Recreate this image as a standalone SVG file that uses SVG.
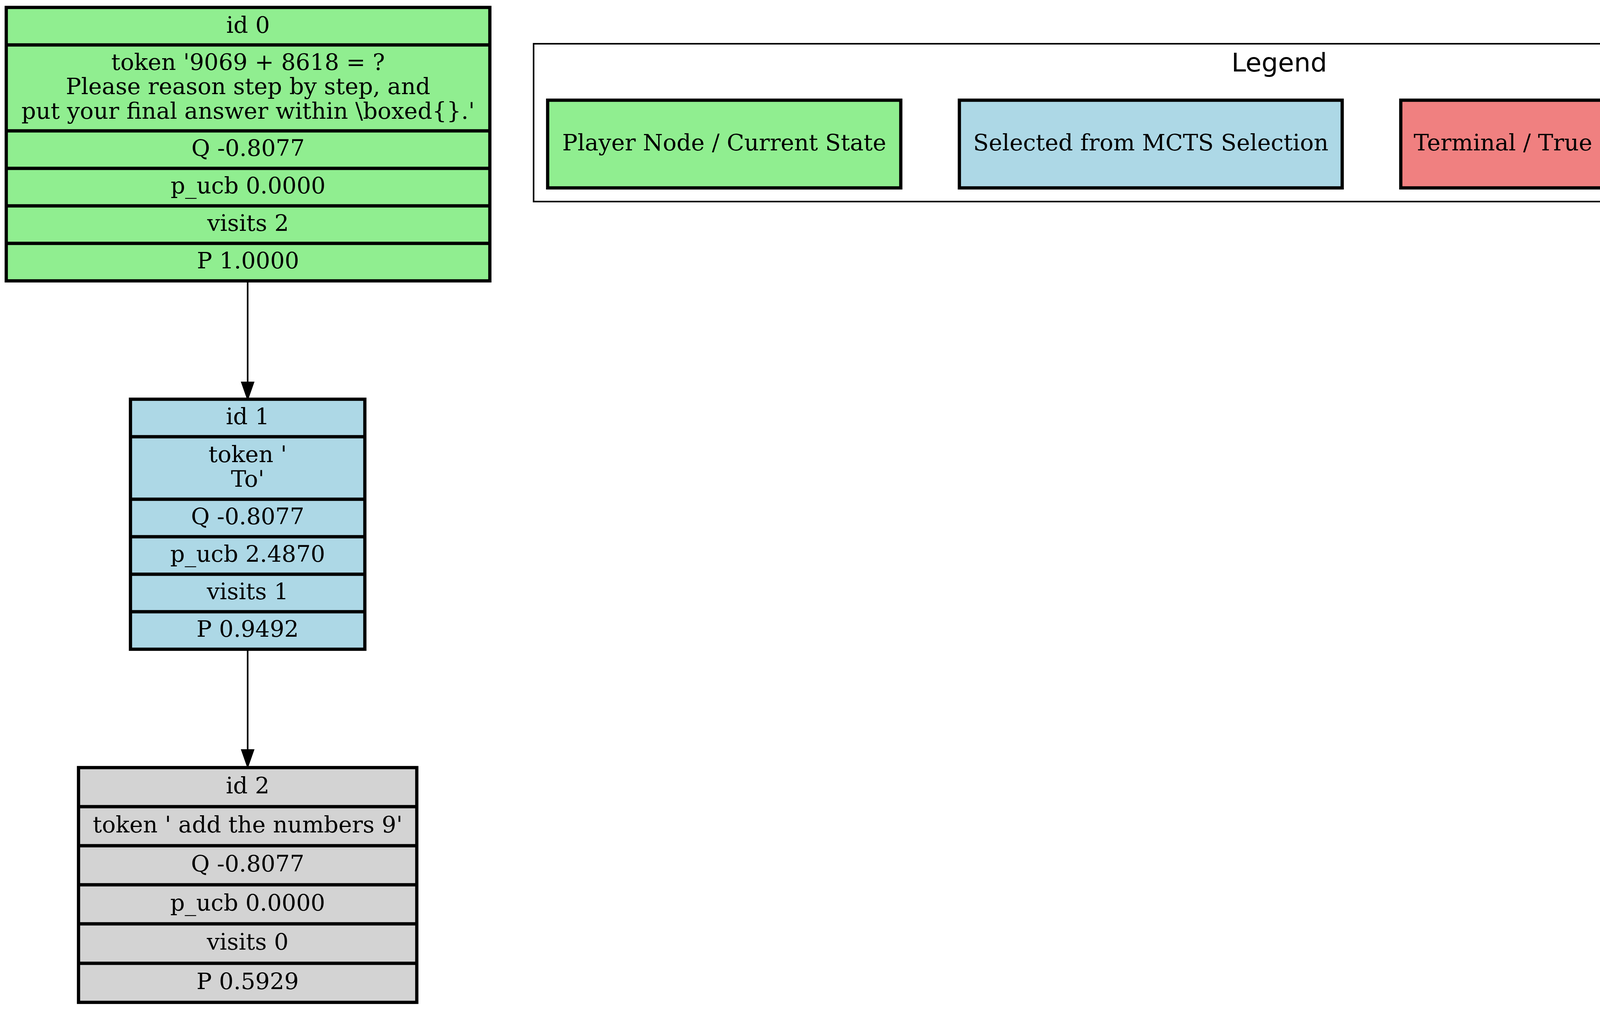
<svg xmlns="http://www.w3.org/2000/svg" width="5233" height="2583" viewBox="0 0 5233 2583">
<style>
.bg{fill:#ffffff}
.box{stroke:#000;stroke-width:8.33}
.sep{stroke:#000;stroke-width:8.33}
.green{fill:#90ee90}
.blue{fill:#add8e6}
.red{fill:#f08080}
.grey{fill:#d3d3d3}
.t{font-family:"DejaVu Serif","Liberation Serif",serif;font-size:58.33px;fill:#000;text-anchor:middle}
.lt{font-family:"DejaVu Sans","Liberation Sans",sans-serif;font-size:66.67px;fill:#000;text-anchor:middle}
.frame{fill:none;stroke:#000;stroke-width:4}
.edge{stroke:#000;stroke-width:4.17;fill:none}
.head{fill:#000;stroke:#000;stroke-width:4.17}
</style>
<rect class="bg" x="0" y="0" width="5233" height="2583"/>

<g id="legend">
  <rect class="frame" x="1366" y="112" width="3818" height="404"/>
  <text class="lt" x="3275" y="183">Legend</text>
  <g id="legend_player">
    <rect class="box green" x="1402" y="256.5" width="904" height="224.5"/>
    <text class="t" x="1854" y="385">Player Node / Current State</text>
  </g>
  <g id="legend_selected">
    <rect class="box blue" x="2456" y="256.5" width="980" height="224.5"/>
    <text class="t" x="2946" y="385">Selected from MCTS Selection</text>
  </g>
  <g id="legend_terminal">
    <rect class="box red" x="3586" y="256.5" width="770" height="224.5"/>
    <text class="t" x="3971" y="385">Terminal / True Reward</text>
  </g>
  <g id="legend_updated">
    <rect class="box grey" x="4508" y="256.5" width="642" height="224.5"/>
    <text class="t" x="4829" y="385">Updated Q / P-UCB</text>
  </g>
</g>

<g id="edges">
  <g id="edge_0_1">
    <line class="edge" x1="634" y1="719" x2="634" y2="979"/>
    <polygon class="head" points="619.4,979 648.6,979 634,1020.7"/>
  </g>
  <g id="edge_1_2">
    <line class="edge" x1="634" y1="1662" x2="634" y2="1920"/>
    <polygon class="head" points="619.4,1920 648.6,1920 634,1961.7"/>
  </g>
</g>

<g id="node0">
  <rect class="box green" x="16" y="19" width="1238" height="700"/>
  <line class="sep" x1="16" y1="115" x2="1254" y2="115"/>
  <line class="sep" x1="16" y1="335" x2="1254" y2="335"/>
  <line class="sep" x1="16" y1="431" x2="1254" y2="431"/>
  <line class="sep" x1="16" y1="527" x2="1254" y2="527"/>
  <line class="sep" x1="16" y1="623" x2="1254" y2="623"/>
  <text class="t" x="635" y="84">id 0</text>
  <text class="t" x="635" y="178.5">token '9069 + 8618 = ?</text>
  <text class="t" x="635" y="241">Please reason step by step, and</text>
  <text class="t" x="635" y="303.5">put your final answer within \boxed{}.'</text>
  <text class="t" x="635" y="399">Q -0.8077</text>
  <text class="t" x="635" y="495">p_ucb 0.0000</text>
  <text class="t" x="635" y="591">visits 2</text>
  <text class="t" x="635" y="687">P 1.0000</text>
</g>

<g id="node1">
  <rect class="box blue" x="334" y="1022" width="600" height="640"/>
  <line class="sep" x1="334" y1="1118" x2="934" y2="1118"/>
  <line class="sep" x1="334" y1="1278" x2="934" y2="1278"/>
  <line class="sep" x1="334" y1="1374" x2="934" y2="1374"/>
  <line class="sep" x1="334" y1="1470" x2="934" y2="1470"/>
  <line class="sep" x1="334" y1="1566" x2="934" y2="1566"/>
  <text class="t" x="634" y="1086">id 1</text>
  <text class="t" x="634" y="1183">token '</text>
  <text class="t" x="634" y="1245.5">To'</text>
  <text class="t" x="634" y="1342">Q -0.8077</text>
  <text class="t" x="634" y="1438">p_ucb 2.4870</text>
  <text class="t" x="634" y="1534">visits 1</text>
  <text class="t" x="634" y="1630">P 0.9492</text>
</g>

<g id="node2">
  <rect class="box grey" x="201" y="1965" width="866" height="601"/>
  <line class="sep" x1="201" y1="2065" x2="1067" y2="2065"/>
  <line class="sep" x1="201" y1="2165" x2="1067" y2="2165"/>
  <line class="sep" x1="201" y1="2265" x2="1067" y2="2265"/>
  <line class="sep" x1="201" y1="2365" x2="1067" y2="2365"/>
  <line class="sep" x1="201" y1="2466" x2="1067" y2="2466"/>
  <text class="t" x="634" y="2031">id 2</text>
  <text class="t" x="634" y="2131">token ' add the numbers 9'</text>
  <text class="t" x="634" y="2231">Q -0.8077</text>
  <text class="t" x="634" y="2331">p_ucb 0.0000</text>
  <text class="t" x="634" y="2431">visits 0</text>
  <text class="t" x="634" y="2532">P 0.5929</text>
</g>
</svg>
